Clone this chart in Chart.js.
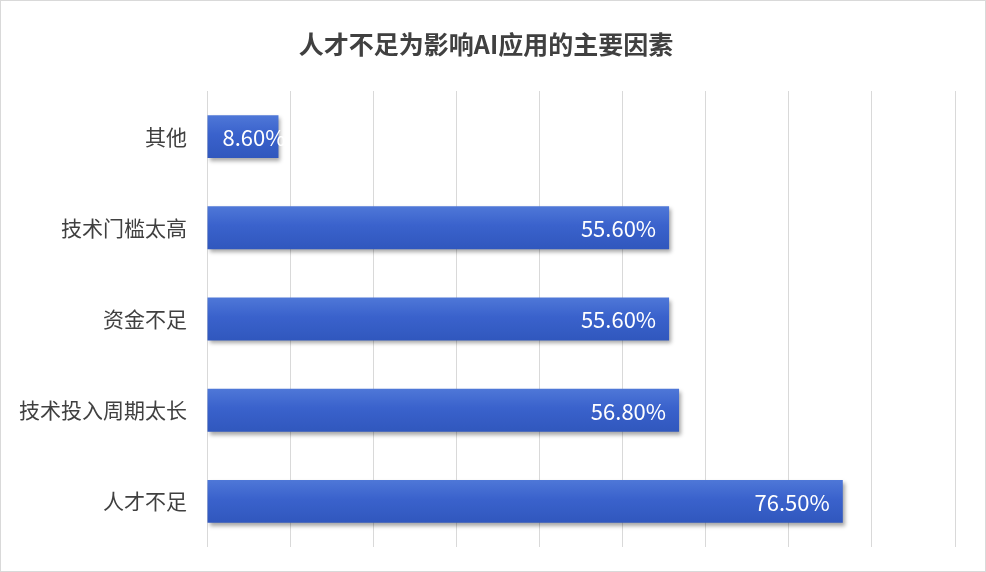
<!DOCTYPE html>
<html>
<head>
<meta charset="utf-8">
<script src="https://cdn.jsdelivr.net/npm/chart.js@4/dist/chart.umd.min.js"></script>
<style>
    html, body { margin: 0; padding: 0; background: #fff; }
    .wrap {
        width: 984px;
        height: 570px;
        border: 1px solid #d9d9d9;
        position: relative;
    }
</style>
</head>
<body>
<div class="wrap"><canvas id="chart"></canvas></div>
<script>
const categories = ['其他', '技术门槛太高', '资金不足', '技术投入周期太长', '人才不足'];
const shares = [8.6, 55.6, 55.6, 56.8, 76.5];
const shareLabels = ['8.60%', '55.60%', '55.60%', '56.80%', '76.50%'];

const fontFamily = '"Noto Sans CJK SC", "Noto Sans", sans-serif';

// soft shadow under the bars
const barShadow = {
    id: 'barShadow',
    beforeDatasetsDraw(chart) {
        const ctx = chart.ctx;
        ctx.save();
        ctx.shadowColor = 'rgba(0, 0, 0, 0.35)';
        ctx.shadowBlur = 4;
        ctx.shadowOffsetX = 2;
        ctx.shadowOffsetY = 3;
    },
    afterDatasetsDraw(chart) {
        chart.ctx.restore();
    }
};

// value text at the inner end of each bar
const valueLabels = {
    id: 'valueLabels',
    afterDraw(chart) {
        const ctx = chart.ctx;
        const meta = chart.getDatasetMeta(0);
        ctx.save();
        ctx.font = '22px ' + fontFamily;
        ctx.fillStyle = '#ffffff';
        ctx.textBaseline = 'middle';
        meta.data.forEach((bar, i) => {
            const w = ctx.measureText(shareLabels[i]).width;
            if (w + 26 > bar.x - bar.base) {
                // short bar: text starts near the base and runs past the end
                ctx.textAlign = 'left';
                ctx.fillText(shareLabels[i], bar.base + 15, bar.y + 1);
            } else {
                ctx.textAlign = 'right';
                ctx.fillText(shareLabels[i], bar.x - 13, bar.y + 1);
            }
        });
        ctx.restore();
    }
};

function barFill(context) {
    const chart = context.chart;
    const yScale = chart.scales.y;
    if (!chart.chartArea || !yScale || context.dataIndex === undefined) return '#3d63c9';
    const cy = yScale.getPixelForValue(context.dataIndex);
    if (!Number.isFinite(cy)) return '#3d63c9';
    const g = chart.ctx.createLinearGradient(0, cy - 22, 0, cy + 22);
    g.addColorStop(0, '#4f78d8');
    g.addColorStop(0.45, '#3a62cc');
    g.addColorStop(1, '#3057bd');
    return g;
}

new Chart(document.getElementById('chart'), {
    type: 'bar',
    data: {
        labels: categories,
        datasets: [{
            data: shares,
            backgroundColor: barFill,
            borderWidth: 0,
            categoryPercentage: 0.94,
            barPercentage: 0.5
        }]
    },
    options: {
        indexAxis: 'y',
        responsive: true,
        maintainAspectRatio: false,
        animation: false,
        layout: {
            padding: { top: 4, right: 30, bottom: 24, left: 16 }
        },
        plugins: {
            legend: { display: false },
            tooltip: { enabled: false },
            title: {
                display: true,
                text: '人才不足为影响AI应用的主要因素',
                color: '#404040',
                font: { family: fontFamily, size: 25, weight: 'bold' },
                padding: { top: 24, bottom: 32 }
            }
        },
        scales: {
            x: {
                min: 0,
                max: 90,
                ticks: { display: false, stepSize: 10 },
                grid: { color: '#d9d9d9', lineWidth: 1, drawTicks: false },
                border: { display: false }
            },
            y: {
                grid: { display: false, drawTicks: false },
                border: { display: false },
                ticks: {
                    color: '#404040',
                    padding: 20,
                    font: { family: fontFamily, size: 21 }
                },
                afterFit(scale) {
                    scale.width = 190;
                    scale.paddingTop = 0;
                    scale.paddingBottom = 0;
                }
            }
        }
    },
    plugins: [barShadow, valueLabels]
});
</script>
</body>
</html>
